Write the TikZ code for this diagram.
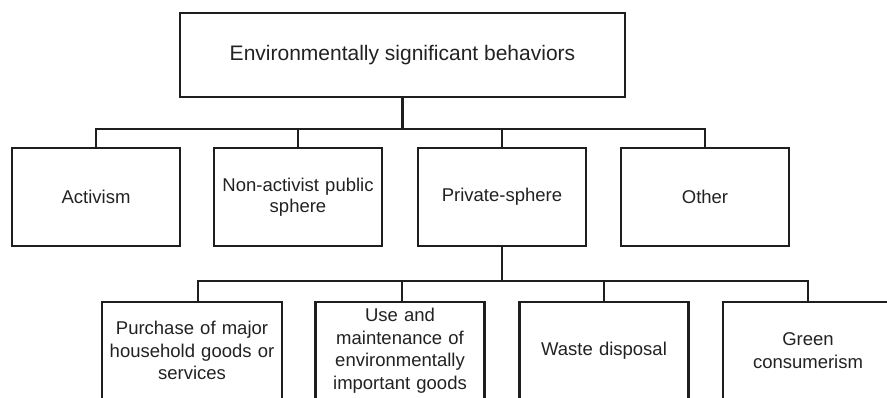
\documentclass[tikz,border=0pt]{standalone}
\usepackage{fontspec}
\setmainfont{Liberation Sans}
\definecolor{ink}{HTML}{1E1E1E}
\definecolor{txt}{HTML}{222222}
\begin{document}
\begin{tikzpicture}[x=1pt,y=-1pt,
  box/.style={draw=ink, line width=2.8pt, fill=white, text=txt, align=center, inner sep=2pt},
  topbox/.style={box, minimum width=445pt, minimum height=84pt, font=\fontsize{21}{25}\selectfont},
  midbox/.style={box, minimum width=168pt, minimum height=98pt, text width=160pt, font=\fontsize{18.5}{21}\selectfont},
  lowbox/.style={box, minimum height=97pt, text width=165pt, font=\fontsize{18.5}{22.5}\selectfont},
  link/.style={draw=ink, line width=2.8pt}
]
\useasboundingbox (0,0) rectangle (887,397);
\clip (0,0) rectangle (887,397);

\coordinate (bus1) at (0,129);
\coordinate (bus2) at (0,281);

\node[topbox] (top) at (402.5,55) {Environmentally significant behaviors};

\node[midbox] (act) at (96,197) {Activism};
\node[midbox] (non) at (298,197) {Non-activist public\\sphere};
\node[midbox] (priv) at (502,197) {Private-sphere};
\node[midbox] (oth) at (705,197) {Other};

\node[lowbox, minimum width=180pt] (pur) at (192,350.5) {Purchase of major\\household goods or\\services};
\node[lowbox, minimum width=165pt] (use) at (400,350.5) {Use and\\maintenance of\\environmentally\\important goods};
\node[lowbox, minimum width=168pt] (was) at (604,350.5) {Waste disposal};
\node[lowbox, minimum width=170pt] (gre) at (808,350.5) {Green\\consumerism};

\draw[link] (top.south) -- (top.south |- bus1);
\draw[link, line cap=rect] (act.north |- bus1) -- (oth.north |- bus1);
\draw[link] (act.north |- bus1) -- (act.north);
\draw[link] (non.north |- bus1) -- (non.north);
\draw[link] (priv.north |- bus1) -- (priv.north);
\draw[link] (oth.north |- bus1) -- (oth.north);

\draw[link] (priv.south) -- (priv.south |- bus2);
\coordinate (purtop) at ([xshift=6pt]pur.north);
\coordinate (usetop) at ([xshift=2pt]use.north);
\draw[link, line cap=rect] (purtop |- bus2) -- (gre.north |- bus2);
\draw[link] (purtop |- bus2) -- (purtop);
\draw[link] (usetop |- bus2) -- (usetop);
\draw[link] (was.north |- bus2) -- (was.north);
\draw[link] (gre.north |- bus2) -- (gre.north);
\end{tikzpicture}
\end{document}
